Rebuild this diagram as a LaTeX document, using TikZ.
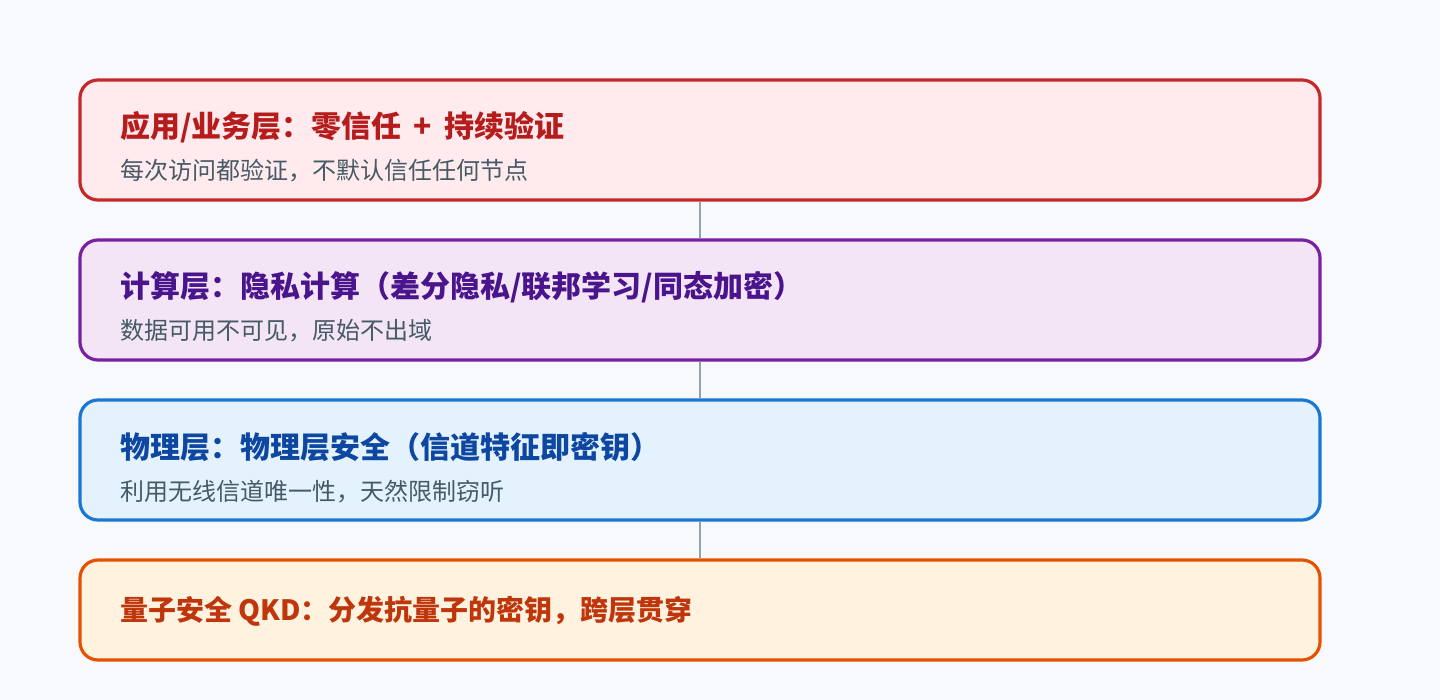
\documentclass[tikz,border=0pt]{standalone}
\usepackage{fontspec}
\newfontfamily\cjk{Noto Sans CJK SC}
\definecolor{bg}{HTML}{F7F9FD}
\definecolor{link}{HTML}{90A4AE}
\definecolor{sub}{HTML}{455A64}
\definecolor{appD}{HTML}{C62828}\definecolor{appF}{HTML}{FFEBEE}\definecolor{appT}{HTML}{B71C1C}
\definecolor{cmpD}{HTML}{7B1FA2}\definecolor{cmpF}{HTML}{F3E5F5}\definecolor{cmpT}{HTML}{4A148C}
\definecolor{phyD}{HTML}{1976D2}\definecolor{phyF}{HTML}{E3F2FD}\definecolor{phyT}{HTML}{0D47A1}
\definecolor{qkdD}{HTML}{E65100}\definecolor{qkdF}{HTML}{FFF3E0}\definecolor{qkdT}{HTML}{BF360C}
\tikzset{
 layer/.style={draw=#1D, fill=#1F, line width=3.2pt, rounded corners=18pt,
   minimum width=1240pt, inner sep=0pt},
 ttl/.style={anchor=base west, inner sep=0pt, text=#1T,
   font=\cjk\bfseries\fontsize{30}{34}\selectfont},
 note/.style={anchor=base west, inner sep=0pt, text=sub,
   font=\cjk\fontsize{24}{28}\selectfont},
}
\begin{document}
\begin{tikzpicture}[x=1pt,y=-1pt]

\fill[bg] (0,0) rectangle (1440,700);

% the four layers
\node[layer=app, minimum height=120pt] (app) at (700,140) {};
\node[layer=cmp, minimum height=120pt] (cmp) at (700,300) {};
\node[layer=phy, minimum height=120pt] (phy) at (700,460) {};
\node[layer=qkd, minimum height=100pt] (qkd) at (700,610) {};

\node[ttl=app] (appttl) at (120,138) {应用/业务层：零信任\hspace{12pt}+\hspace{12pt}持续验证};
\node[note] (appnote) at (120,180) {每次访问都验证，不默认信任任何节点};

\node[ttl=cmp] (cmpttl) at (120,298) {计算层：隐私计算（差分隐私/联邦学习/同态加密）};
\node[note] (cmpnote) at (120,340) {数据可用不可见，原始不出域};

\node[ttl=phy] (phyttl) at (120,458) {物理层：物理层安全（信道特征即密钥）};
\node[note] (phynote) at (120,500) {利用无线信道唯一性，天然限制窃听};

\node[ttl=qkd, font=\cjk\bfseries\fontsize{28}{32}\selectfont] (qkdttl) at (120,620) {量子安全 QKD：分发抗量子的密钥，跨层贯穿};

% links between layers
\foreach \a/\b in {app/cmp, cmp/phy, phy/qkd}
 \draw[link, line width=2.4pt] (\a.south) -- (\b.north);

\end{tikzpicture}
\end{document}
